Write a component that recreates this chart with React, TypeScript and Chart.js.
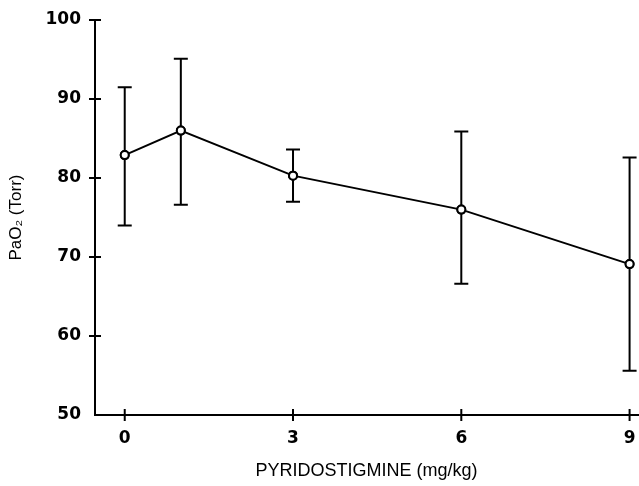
import React, { useEffect, useRef } from "react";
import { Chart, registerables } from "chart.js";

Chart.register(...registerables);

const doses = [0, 1, 3, 6, 9];
const means = [82.9, 86.0, 80.3, 76.0, 69.1];
const errHigh = [91.5, 95.1, 83.6, 85.9, 82.6];
const errLow = [74.0, 76.6, 77.0, 66.6, 55.6];
const xTicks = [0, 3, 6, 9];
const yTicks = [50, 60, 70, 80, 90, 100];
const xTitle = "PYRIDOSTIGMINE (mg/kg)";
const yTitle = "PaO\u2082 (Torr)";

const errorBarPlugin = {
  id: "errorBars",
  afterDatasetsDraw(chart: any) {
    const { ctx, scales } = chart;
    const xs = scales.x;
    const ys = scales.y;
    ctx.save();
    ctx.strokeStyle = "#000";
    ctx.lineWidth = 2;
    doses.forEach((d, i) => {
      const x = xs.getPixelForValue(d);
      const yh = ys.getPixelForValue(errHigh[i]);
      const yl = ys.getPixelForValue(errLow[i]);
      ctx.beginPath();
      ctx.moveTo(x, yh);
      ctx.lineTo(x, yl);
      ctx.moveTo(x - 7, yh);
      ctx.lineTo(x + 7, yh);
      ctx.moveTo(x - 7, yl);
      ctx.lineTo(x + 7, yl);
      ctx.stroke();
    });
    const meta = chart.getDatasetMeta(0);
    meta.data.forEach((el: any) => {
      ctx.beginPath();
      ctx.arc(el.x, el.y, 4, 0, Math.PI * 2);
      ctx.fillStyle = "#fff";
      ctx.fill();
      ctx.lineWidth = 2;
      ctx.stroke();
    });
    ctx.restore();
  },
};

const crossTickPlugin = {
  id: "crossTicks",
  afterDraw(chart: any) {
    const { ctx, scales, chartArea } = chart;
    ctx.save();
    ctx.strokeStyle = "#000";
    ctx.lineWidth = 2;
    yTicks.forEach((v) => {
      if (v === 50) return;
      const y = scales.y.getPixelForValue(v);
      ctx.beginPath();
      ctx.moveTo(chartArea.left - 6, y);
      ctx.lineTo(chartArea.left + 6, y);
      ctx.stroke();
    });
    xTicks.forEach((v) => {
      const x = scales.x.getPixelForValue(v);
      ctx.beginPath();
      ctx.moveTo(x, chartArea.bottom - 6);
      ctx.lineTo(x, chartArea.bottom + 6);
      ctx.stroke();
    });
    ctx.restore();
  },
};

export default function App() {
  const ref = useRef<HTMLCanvasElement | null>(null);
  useEffect(() => {
    document.body.style.margin = "0";
    const chart = new Chart(ref.current as HTMLCanvasElement, {
      type: "line",
      data: {
        datasets: [
          {
            data: doses.map((d, i) => ({ x: d, y: means[i] })),
            borderColor: "#000",
            borderWidth: 2,
            pointRadius: 4,
            pointBackgroundColor: "#fff",
            pointBorderColor: "#000",
            pointBorderWidth: 2,
            tension: 0,
          },
        ],
      },
      options: {
        animation: false,
        responsive: false,
        maintainAspectRatio: false,
        layout: { autoPadding: false, padding: { top: 20, right: 1, left: 0, bottom: 0 } },
        plugins: { legend: { display: false }, tooltip: { enabled: false } },
        scales: {
          x: {
            type: "linear",
            min: -0.53,
            max: 9.15,
            afterBuildTicks: (axis: any) => {
              axis.ticks = xTicks.map((v) => ({ value: v }));
            },
            afterFit: (axis: any) => {
              axis.height = 71;
              axis.paddingLeft = 0;
              axis.paddingRight = 0;
            },
            grid: { display: false, drawTicks: false },
            border: { display: true, color: "#000", width: 2 },
            ticks: {
              color: "#000",
              padding: 13,
              maxRotation: 0,
              autoSkip: false,
              font: { family: "DejaVu Sans", size: 17, weight: "bold" },
            },
            title: {
              display: true,
              text: xTitle,
              color: "#000",
              font: { family: "Liberation Sans", size: 18 },
              padding: { top: 4 },
            },
          },
          y: {
            type: "linear",
            min: 50,
            max: 100,
            afterBuildTicks: (axis: any) => {
              axis.ticks = yTicks.map((v) => ({ value: v }));
            },
            afterFit: (axis: any) => {
              axis.width = 95;
              axis.paddingTop = 0;
              axis.paddingBottom = 0;
            },
            grid: { display: false, drawTicks: false },
            border: { display: true, color: "#000", width: 2 },
            ticks: {
              color: "#000",
              padding: 14,
              font: { family: "DejaVu Sans", size: 17, weight: "bold" },
            },
            title: {
              display: true,
              text: yTitle,
              color: "#000",
              font: { family: "Liberation Sans", size: 17 },
              padding: { top: 6, bottom: 6 },
            },
          },
        },
      },
      plugins: [errorBarPlugin, crossTickPlugin],
    } as any);
    return () => chart.destroy();
  }, []);
  return (
    <div style={{ width: 639, height: 486 }}>
      <canvas ref={ref} width={639} height={486} />
    </div>
  );
}
